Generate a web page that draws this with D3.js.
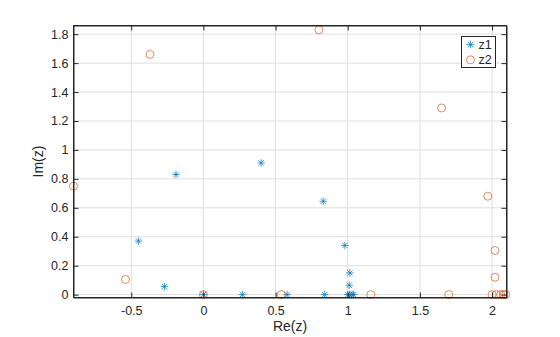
<!DOCTYPE html>
<html>
<head>
<meta charset="utf-8">
<script src="https://cdn.jsdelivr.net/npm/d3@7"></script>
<style>
  html, body { margin: 0; padding: 0; background: #fff; }
  svg { display: block; font-family: "Liberation Sans", Arial, Helvetica, sans-serif; }
</style>
</head>
<body>
<svg id="chart" width="560" height="337"></svg>
<script>
// Complex roots plotted in the plane: real part vs imaginary part
const z1Re = [-0.45, -0.27, -0.19, 0.0, 0.27, 0.40, 0.58, 0.83, 0.84, 0.98, 1.00, 1.01, 1.015, 1.013, 1.03, 1.04];
const z1Im = [0.37, 0.055, 0.83, 0.0, 0.0, 0.91, 0.0, 0.645, 0.0, 0.34, 0.0, 0.065, 0.15, 0.0, 0.0, 0.0];

const z2Re = [-0.90, -0.54, -0.37, 0.0, 0.54, 0.80, 1.16, 1.65, 1.70, 1.97, 2.02, 2.02, 2.00, 2.03, 2.06, 2.08, 2.095];
const z2Im = [0.75, 0.105, 1.66, 0.0, 0.0, 1.83, 0.0, 1.29, 0.0, 0.68, 0.305, 0.12, 0.0, 0.0, 0.0, 0.0, 0.0];

const seriesNames = ["z1", "z2"];
const xTicks = [-0.5, 0, 0.5, 1, 1.5, 2];
const xTickLabels = ["-0.5", "0", "0.5", "1", "1.5", "2"];
const yTicks = [0, 0.2, 0.4, 0.6, 0.8, 1, 1.2, 1.4, 1.6, 1.8];
const yTickLabels = ["0", "0.2", "0.4", "0.6", "0.8", "1", "1.2", "1.4", "1.6", "1.8"];
const xLabel = "Re(z)";
const yLabel = "Im(z)";

const colors = { z1: "#0072BD", z2: "#D95319" };
const axisColor = "#262626";
const gridColor = "#dfdfdf";
const markerStroke = 0.7;

const plotLeft = 73.5, plotRight = 506.5, plotTop = 25.5, plotBottom = 297.5;
const svg = d3.select("#chart");

const x = d3.scaleLinear().domain([-0.9, 2.1]).range([plotLeft, plotRight]);
const y = d3.scaleLinear().domain([-0.02, 1.86]).range([plotBottom, plotTop]);

// grid
const grid = svg.append("g");
grid.selectAll("line.gx").data(xTicks).join("line")
  .attr("x1", d => x(d)).attr("x2", d => x(d))
  .attr("y1", plotTop).attr("y2", plotBottom)
  .attr("stroke", gridColor).attr("stroke-width", 1);
grid.selectAll("line.gy").data(yTicks).join("line")
  .attr("x1", plotLeft).attr("x2", plotRight)
  .attr("y1", d => y(d)).attr("y2", d => y(d))
  .attr("stroke", gridColor).attr("stroke-width", 1);

// markers
const starSize = 3.8;
function starPath(cx, cy) {
  const r = starSize, d = r * 0.72;
  return `M${cx - r},${cy}L${cx + r},${cy}M${cx},${cy - r}L${cx},${cy + r}` +
         `M${cx - d},${cy - d}L${cx + d},${cy + d}M${cx - d},${cy + d}L${cx + d},${cy - d}`;
}

const z1 = z1Re.map((re, i) => ({ re, im: z1Im[i] }));
const z2 = z2Re.map((re, i) => ({ re, im: z2Im[i] }));

svg.append("g").selectAll("path").data(z1).join("path")
  .attr("d", d => starPath(x(d.re), y(d.im)))
  .attr("stroke", colors.z1).attr("stroke-width", markerStroke).attr("fill", "none");

svg.append("g").selectAll("circle").data(z2).join("circle")
  .attr("cx", d => x(d.re)).attr("cy", d => y(d.im)).attr("r", 4)
  .attr("stroke", colors.z2).attr("stroke-width", markerStroke).attr("fill", "none");

// axes (ticks point inward, box on all four sides)
const fontSize = 12.5;
function styleAxis(g) {
  g.select(".domain").attr("stroke", axisColor).attr("stroke-width", 1);
  g.selectAll(".tick line").attr("stroke", axisColor).attr("stroke-width", 1);
  g.selectAll(".tick text").attr("fill", axisColor).attr("font-size", fontSize)
    .attr("font-family", "Liberation Sans, Arial, sans-serif");
}

svg.append("g").attr("transform", `translate(0,${plotBottom})`)
  .call(d3.axisBottom(x).tickValues(xTicks).tickSize(-5).tickSizeOuter(0).tickPadding(9)
    .tickFormat((d, i) => xTickLabels[i]))
  .call(styleAxis);
svg.append("g").attr("transform", `translate(0,${plotTop})`)
  .call(d3.axisTop(x).tickValues(xTicks).tickSize(-5).tickSizeOuter(0).tickFormat(""))
  .call(styleAxis);
svg.append("g").attr("transform", `translate(${plotLeft},0)`)
  .call(d3.axisLeft(y).tickValues(yTicks).tickSize(-5).tickSizeOuter(0).tickPadding(5)
    .tickFormat((d, i) => yTickLabels[i]))
  .call(styleAxis);
svg.append("g").attr("transform", `translate(${plotRight},0)`)
  .call(d3.axisRight(y).tickValues(yTicks).tickSize(-5).tickSizeOuter(0).tickFormat(""))
  .call(styleAxis);

// axis frame
svg.append("rect").attr("x", plotLeft).attr("y", plotTop)
  .attr("width", plotRight - plotLeft).attr("height", plotBottom - plotTop)
  .attr("fill", "none").attr("stroke", axisColor).attr("stroke-width", 1);

// axis labels
svg.append("text").attr("x", (plotLeft + plotRight) / 2).attr("y", 331)
  .attr("text-anchor", "middle").attr("font-size", 14).attr("fill", axisColor)
  .text(xLabel);
svg.append("text").attr("transform", `translate(43,${(plotTop + plotBottom) / 2}) rotate(-90)`)
  .attr("text-anchor", "middle").attr("font-size", 14).attr("fill", axisColor)
  .text(yLabel);

// legend
const lg = svg.append("g");
const lx = 461.5, ly = 36.5, lw = 34, lh = 31;
lg.append("rect").attr("x", lx).attr("y", ly).attr("width", lw).attr("height", lh)
  .attr("fill", "#fff").attr("stroke", axisColor).attr("stroke-width", 1);
seriesNames.forEach((name, i) => {
  const cy = ly + 8 + i * 15.3;
  const cx = lx + 9;
  if (name === "z1") {
    lg.append("path").attr("d", starPath(cx, cy))
      .attr("stroke", colors.z1).attr("stroke-width", markerStroke).attr("fill", "none");
  } else {
    lg.append("circle").attr("cx", cx).attr("cy", cy).attr("r", 4)
      .attr("stroke", colors.z2).attr("stroke-width", markerStroke).attr("fill", "none");
  }
  lg.append("text").attr("x", lx + 17).attr("y", cy).attr("dy", "0.36em")
    .attr("font-size", 12.5).attr("fill", axisColor).text(name);
});
</script>
</body>
</html>
